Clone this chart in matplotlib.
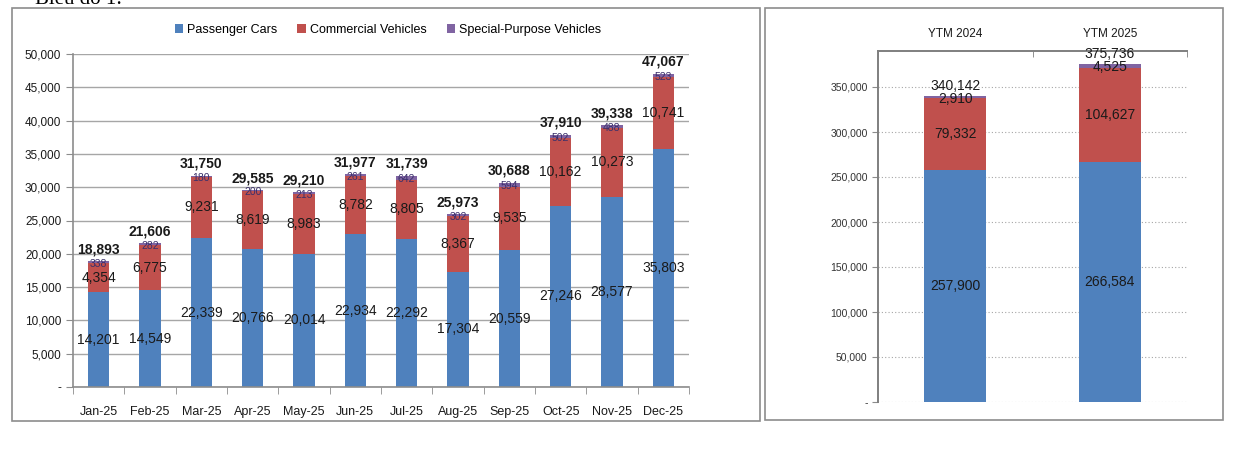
import numpy as np
import matplotlib.pyplot as plt
from matplotlib.patches import Rectangle
from matplotlib.ticker import FuncFormatter

plt.rcParams['font.family'] = ['Liberation Sans Narrow', 'Liberation Sans', 'DejaVu Sans']

# monthly data 2025
months = ['Jan-25', 'Feb-25', 'Mar-25', 'Apr-25', 'May-25', 'Jun-25',
          'Jul-25', 'Aug-25', 'Sep-25', 'Oct-25', 'Nov-25', 'Dec-25']
passenger = [14201, 14549, 22339, 20766, 20014, 22934, 22292, 17304, 20559, 27246, 28577, 35803]
commercial = [4354, 6775, 9231, 8619, 8983, 8782, 8805, 8367, 9535, 10162, 10273, 10741]
special = [338, 282, 180, 200, 213, 261, 642, 302, 594, 502, 488, 523]

# year to month totals
ytm_labels = ['YTM 2024', 'YTM 2025']
ytm_passenger = [257900, 266584]
ytm_commercial = [79332, 104627]
ytm_special = [2910, 4525]

series_names = ['Passenger Cars', 'Commercial Vehicles', 'Special-Purpose Vehicles']
c_blue, c_red, c_purple = '#4F81BD', '#C0504D', '#8064A2'

fig = plt.figure(figsize=(12.4, 4.49), dpi=100)

# panel frames
fig.patches.append(Rectangle((12 / 1240, 1 - 421 / 449), 748 / 1240, 413 / 449,
                             transform=fig.transFigure, fill=False, ec='#8C8C8C', lw=1.2))
fig.patches.append(Rectangle((765 / 1240, 1 - 420 / 449), 458 / 1240, 412 / 449,
                             transform=fig.transFigure, fill=False, ec='#8C8C8C', lw=1.2))
# caption is cut at the top edge in the source image
fig.text(0.028, 1 - 4 / 449, 'Biểu đồ 1:', family='Liberation Serif', fontsize=15,
         va='baseline', ha='left')

fmt = FuncFormatter(lambda v, p: '-' if v == 0 else f'{v:,.0f}')

# ---- left chart: monthly ----
ax = fig.add_axes([73 / 1240, 1 - 387 / 449, 616 / 1240, 333 / 449])
x = np.arange(len(months))
p = np.array(passenger)
c = np.array(commercial)
s = np.array(special)
w = 0.41
ax.bar(x, p, w, color=c_blue, label=series_names[0], zorder=2)
ax.bar(x, c, w, bottom=p, color=c_red, label=series_names[1], zorder=2)
ax.bar(x, s, w, bottom=p + c, color=c_purple, label=series_names[2], zorder=2)

for i in range(len(months)):
    ax.text(x[i], p[i] / 2, f'{p[i]:,}', ha='center', va='center', fontsize=10, color='#1a1a1a', zorder=3)
    ax.text(x[i], p[i] + c[i] / 2, f'{c[i]:,}', ha='center', va='center', fontsize=10, color='#1a1a1a', zorder=3)
    ax.text(x[i], p[i] + c[i] + s[i] / 2 - 250, f'{s[i]:,}', ha='center', va='center', fontsize=7.5,
            color='#3A2F6B', zorder=3)
    tot = p[i] + c[i] + s[i]
    ax.text(x[i], tot + 700, f'{tot:,}', ha='center', va='bottom', fontsize=10, fontweight='bold',
            color='#1a1a1a', zorder=3, clip_on=False)

ax.set_xlim(-0.5, len(months) - 0.5)
ax.set_ylim(0, 50000)
ax.set_yticks(np.arange(0, 50001, 5000))
ax.yaxis.set_major_formatter(fmt)
ax.set_xticks(x)
ax.set_xticklabels(months)
ax.set_xticks(np.arange(-0.5, len(months), 1), minor=True)
ax.tick_params(axis='x', which='major', length=0, pad=14, labelsize=9, colors='#1a1a1a')
ax.tick_params(axis='x', which='minor', length=5, color='#8C8C8C')
ax.tick_params(axis='y', length=5, color='#8C8C8C', labelsize=8.5, labelcolor='#1a1a1a')
ax.grid(axis='y', color='#A6A6A6', lw=1, zorder=0)
for sp in ['top', 'right']:
    ax.spines[sp].set_visible(False)
for sp in ['left', 'bottom']:
    ax.spines[sp].set_color('#8C8C8C')
    ax.spines[sp].set_linewidth(1.2)

ax.legend(loc='center', bbox_to_anchor=(388 / 1240, 1 - 30 / 449), bbox_transform=fig.transFigure,
          ncol=3, frameon=False, fontsize=9, handlelength=0.7, handleheight=0.7,
          handletextpad=0.3, columnspacing=1.6)

# ---- right chart: YTM ----
ax2 = fig.add_axes([878 / 1240, 1 - 402 / 449, 309 / 1240, 351 / 449])
x2 = np.arange(len(ytm_labels))
yp = np.array(ytm_passenger)
yc = np.array(ytm_commercial)
ys = np.array(ytm_special)
w2 = 0.4
ax2.bar(x2, yp, w2, color=c_blue, zorder=2)
ax2.bar(x2, yc, w2, bottom=yp, color=c_red, zorder=2)
ax2.bar(x2, ys, w2, bottom=yp + yc, color=c_purple, zorder=2)

for i in range(len(ytm_labels)):
    ax2.text(x2[i], yp[i] / 2, f'{yp[i]:,}', ha='center', va='center', fontsize=10, color='#1a1a1a', zorder=3)
    ax2.text(x2[i], yp[i] + yc[i] / 2, f'{yc[i]:,}', ha='center', va='center', fontsize=10, color='#1a1a1a', zorder=3)
    ax2.text(x2[i], yp[i] + yc[i] + ys[i] / 2 - 1500, f'{ys[i]:,}', ha='center', va='center', fontsize=10,
             color='#1a1a1a', zorder=3)
    tot = yp[i] + yc[i] + ys[i]
    ax2.text(x2[i], tot + 3500, f'{tot:,}', ha='center', va='bottom', fontsize=10, color='#1a1a1a',
             zorder=3, clip_on=False)

ax2.set_xlim(-0.5, len(ytm_labels) - 0.5)
ax2.set_ylim(0, 390000)
ax2.set_yticks(np.arange(0, 350001, 50000))
ax2.yaxis.set_major_formatter(fmt)
ax2.xaxis.tick_top()
ax2.set_xticks(x2)
ax2.set_xticklabels(ytm_labels)
ax2.set_xticks(np.arange(-0.5, len(ytm_labels), 1), minor=True)
ax2.tick_params(axis='x', which='major', length=0, pad=8, labelsize=8.5, colors='#1a1a1a')
ax2.tick_params(axis='x', which='minor', top=True, bottom=False, direction='in', length=4, color='#7F7F7F')
ax2.tick_params(axis='y', length=4, color='#8C8C8C', labelsize=7.5, labelcolor='#333333')
ax2.grid(axis='y', color='#A6A6A6', lw=0.8, ls=(0, (1, 2)), zorder=0)
for sp in ['bottom', 'right']:
    ax2.spines[sp].set_visible(False)
for sp in ['left', 'top']:
    ax2.spines[sp].set_color('#7F7F7F')
    ax2.spines[sp].set_linewidth(1.4)

fig.savefig('out.png', dpi=100)
